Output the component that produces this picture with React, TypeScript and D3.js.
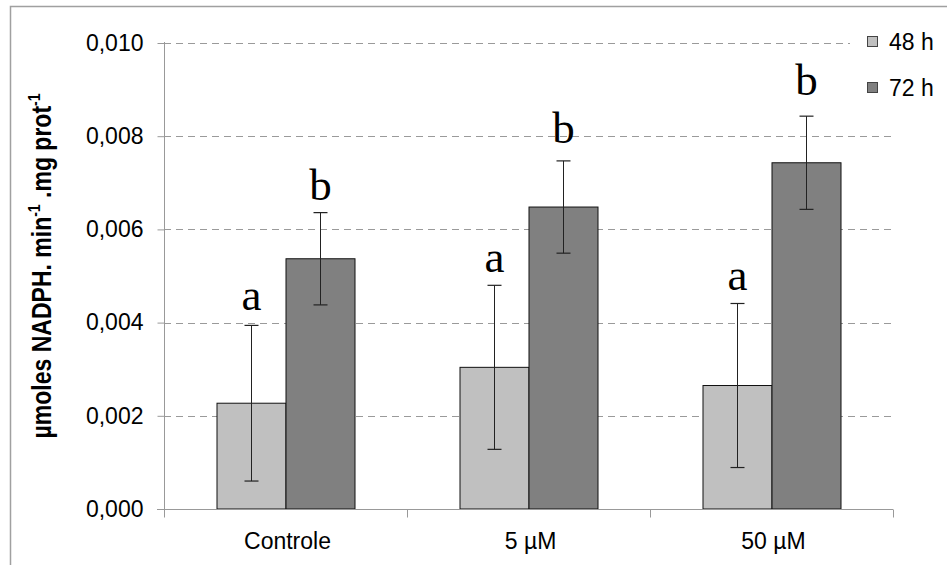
import { useEffect, useRef } from "react";
import * as d3 from "d3";

const categories = ["Controle", "5 µM", "50 µM"];
const seriesNames = ["48 h", "72 h"];
const values48 = [0.00227, 0.00304, 0.00265];
const errors48 = [0.00167, 0.00176, 0.00176];
const values72 = [0.00537, 0.00648, 0.00743];
const errors72 = [0.00099, 0.00099, 0.001];
const letters48 = ["a", "a", "a"];
const letters72 = ["b", "b", "b"];
const letterY48 = [0.00427, 0.00509, 0.0047];
const letterY72 = [0.00663, 0.00785, 0.00888];
const yTicks = [0, 0.002, 0.004, 0.006, 0.008, 0.01];

const W = 947;
const H = 565;
const fills = ["#c0c0c0", "#808080"];
const sans = "'Liberation Sans', Arial, sans-serif";

const App = () => {
    const svgRef = useRef<SVGSVGElement>(null);

    useEffect(() => {
        const svg = d3.select(svgRef.current);
        svg.selectAll("*").remove();

        const left = 164;
        const right = 893;
        const top = 43;
        const bottom = 509;
        const barW = 69;

        const x = d3.scaleBand().domain(categories).range([left, right]).padding(0);
        const y = d3.scaleLinear().domain([0, 0.01]).range([bottom, top]);
        const fmt = (d: number) => d3.format(".3f")(d).replace(".", ",");

        // outer frame
        svg.append("rect")
            .attr("x", 10.5).attr("y", 6.5)
            .attr("width", 1000).attr("height", 1000)
            .attr("fill", "white").attr("stroke", "#a0a0a0").attr("stroke-width", 1.5);

        // grid lines
        svg.append("g")
            .selectAll("line")
            .data(yTicks.slice(1))
            .enter()
            .append("line")
            .attr("x1", left).attr("x2", right)
            .attr("y1", (d) => Math.round(y(d)) + 0.5)
            .attr("y2", (d) => Math.round(y(d)) + 0.5)
            .attr("stroke", "#9a9a9a")
            .attr("stroke-dasharray", "7,5");

        // bars
        const series = [
            { vals: values48, errs: errors48, letters: letters48, ly: letterY48, off: -barW },
            { vals: values72, errs: errors72, letters: letters72, ly: letterY72, off: 0 },
        ];
        series.forEach((s, si) => {
            const cx = (i: number) => (x(categories[i]) as number) + x.bandwidth() / 2 + s.off;
            const g = svg.append("g");
            g.selectAll("rect")
                .data(s.vals)
                .enter()
                .append("rect")
                .attr("x", (d, i) => cx(i) + 0.5)
                .attr("y", (d) => y(d))
                .attr("width", barW)
                .attr("height", (d) => bottom - y(d))
                .attr("fill", fills[si])
                .attr("stroke", "#111")
                .attr("stroke-width", 1);

            s.vals.forEach((v, i) => {
                const mx = Math.round(cx(i) + barW / 2) + 0.5;
                const y1 = y(v + s.errs[i]);
                const y2 = y(v - s.errs[i]);
                g.append("line").attr("x1", mx).attr("x2", mx).attr("y1", y1).attr("y2", y2)
                    .attr("stroke", "#222").attr("stroke-width", 1);
                [y1, y2].forEach((yy) => {
                    g.append("line").attr("x1", mx - 7).attr("x2", mx + 7)
                        .attr("y1", yy).attr("y2", yy)
                        .attr("stroke", "#222").attr("stroke-width", 1.2);
                });
                g.append("text")
                    .attr("x", mx)
                    .attr("y", y(s.ly[i]))
                    .attr("text-anchor", "middle")
                    .style("font-family", "'Liberation Serif', 'Times New Roman', serif")
                    .style("font-size", "45px")
                    .text(s.letters[i]);
            });
        });

        // Y axis
        const yAxis = d3.axisLeft(y).tickValues(yTicks).tickSize(7).tickFormat((d) => fmt(d as number));
        const ya = svg.append("g").attr("transform", `translate(${left + 0.5},0)`).call(yAxis);
        ya.select(".domain").attr("stroke", "#999").attr("d", `M0,${top - 1}V${bottom + 8}`);
        ya.selectAll(".tick line").attr("stroke", "#999");
        ya.selectAll(".tick text")
            .attr("x", -21)
            .style("font-family", sans)
            .style("font-size", "23px")
            .attr("fill", "#000");

        // X axis
        const xa = svg.append("g").attr("transform", `translate(0,${bottom + 0.5})`);
        xa.append("line").attr("x1", left - 7).attr("x2", right).attr("y1", 0).attr("y2", 0).attr("stroke", "#999");
        const bounds = [left, ...categories.map((c) => (x(c) as number) + x.bandwidth())];
        xa.selectAll(".xt")
            .data(bounds)
            .enter()
            .append("line")
            .attr("x1", (d) => Math.round(d) + 0.5)
            .attr("x2", (d) => Math.round(d) + 0.5)
            .attr("y1", 0).attr("y2", 8)
            .attr("stroke", "#999");
        xa.selectAll("text")
            .data(categories)
            .enter()
            .append("text")
            .attr("x", (d) => (x(d) as number) + x.bandwidth() / 2 + 2)
            .attr("y", 39)
            .attr("text-anchor", "middle")
            .style("font-family", sans)
            .style("font-size", "23px")
            .text((d) => d);

        // Y axis title
        const t = svg.append("text")
            .attr("transform", "translate(51,266) rotate(-90)")
            .attr("text-anchor", "middle")
            .style("font-family", sans)
            .style("font-size", "28px")
            .style("font-weight", "bold")
            .attr("textLength", 345)
            .attr("lengthAdjust", "spacingAndGlyphs");
        t.append("tspan").text("µmoles NADPH. min");
        t.append("tspan").attr("dy", -11).style("font-size", "17px").text("-1");
        t.append("tspan").attr("dy", 11).text(" .mg prot");
        t.append("tspan").attr("dy", -11).style("font-size", "17px").text("-1");

        // legend
        const lg = svg.append("g");
        lg.append("rect")
            .attr("x", 850).attr("y", 20)
            .attr("width", 97).attr("height", 92)
            .attr("fill", "white");
        seriesNames.forEach((n, i) => {
            const cy = 42 + i * 46;
            lg.append("rect")
                .attr("x", 867.5).attr("y", cy - 5.5)
                .attr("width", 10).attr("height", 10)
                .attr("fill", fills[i]).attr("stroke", "#444");
            lg.append("text")
                .attr("x", 889).attr("y", cy + 8)
                .style("font-family", sans)
                .style("font-size", "23px")
                .text(n);
        });
    }, []);

    return (
        <svg
            ref={svgRef}
            width={W}
            height={H}
            viewBox={`0 0 ${W} ${H}`}
            style={{ position: "absolute", left: 0, top: 0, background: "white", overflow: "hidden" }}
        ></svg>
    );
};

export default App;
